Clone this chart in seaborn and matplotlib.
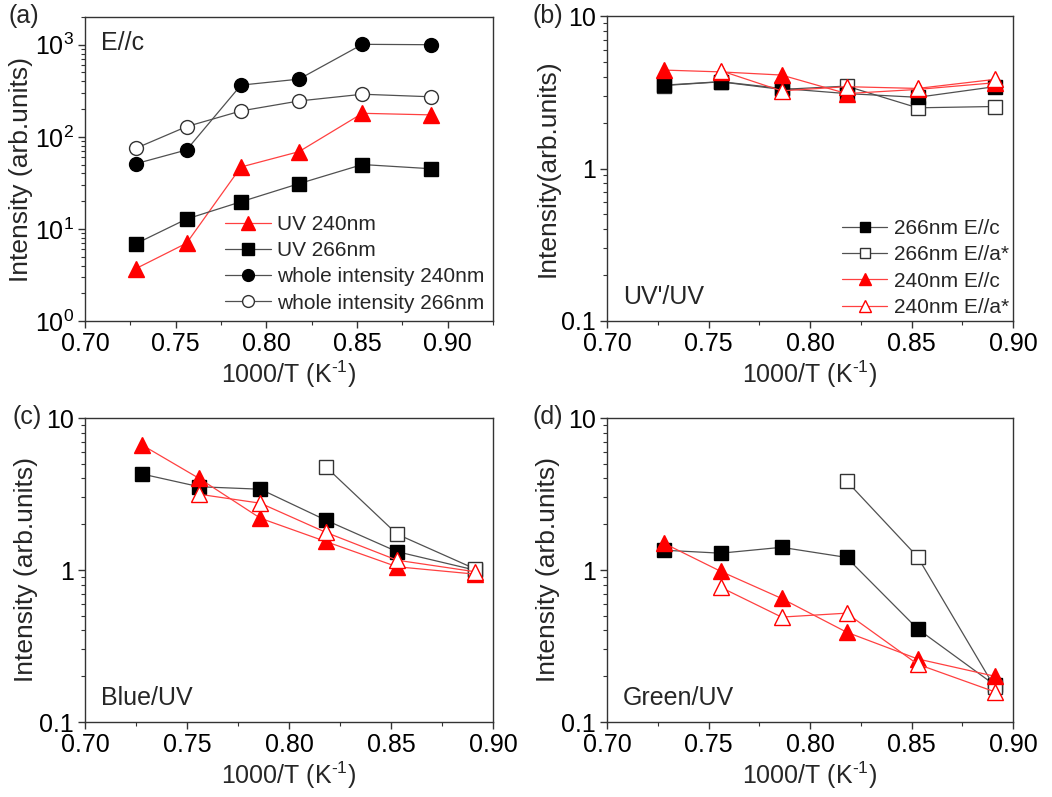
import numpy as np
import pandas as pd
import matplotlib
matplotlib.use("Agg")
import matplotlib.pyplot as plt
import seaborn as sns
from matplotlib.ticker import MultipleLocator, LogLocator, FixedLocator, FixedFormatter

sns.set_style("ticks")
plt.rcParams["font.family"] = ["Liberation Sans", "DejaVu Sans"]
plt.rcParams["mathtext.fontset"] = "custom"
plt.rcParams["mathtext.rm"] = "Liberation Sans"
plt.rcParams["mathtext.it"] = "Liberation Sans"

# ── data ──
x = [0.728, 0.756, 0.786, 0.818, 0.853, 0.891]
x_short = [0.818, 0.853, 0.891]
x_mid = [0.756, 0.786, 0.818, 0.853, 0.891]

# (a) E//c
a_uv240 = [3.7, 7.0, 47, 69, 180, 173]
a_uv266 = [6.9, 12.8, 19.7, 31, 50, 45]
a_whole240 = [51, 72, 364, 423, 1010, 1000]
a_whole266 = [75, 129, 191, 245, 290, 272]

# (b) UV'/UV
b_266c = [3.52, 3.71, 3.35, 3.1, 2.93, 3.44]
b_266a = [3.5, 3.7, 3.3, 3.47, 2.5, 2.55]
b_240c = [4.42, 4.3, 4.1, 3.1, 3.3, 3.65]
b_240a = [4.38, 3.23, 3.44, 3.35, 3.84]

# (c) Blue/UV
c_266c = [4.28, 3.53, 3.4, 2.13, 1.32, 1.0]
c_266a = [4.78, 1.72, 1.02]
c_240c = [6.64, 4.0, 2.19, 1.54, 1.05, 0.94]
c_240a = [3.15, 2.75, 1.77, 1.16, 0.975]

# (d) Green/UV
d_266c = [1.35, 1.29, 1.41, 1.21, 0.41, 0.175]
d_266a = [3.85, 1.22, 0.169]
d_240c = [1.50, 0.98, 0.65, 0.39, 0.26, 0.20]
d_240a = [0.77, 0.49, 0.52, 0.24, 0.158]

GRAY = "#505050"
RED = "#ff4040"

W, H = 1052, 797
fig = plt.figure(figsize=(W / 100, H / 100), dpi=100)


def add_ax(l, t, r, b):
    return fig.add_axes([l / W, 1 - b / H, (r - l) / W, (b - t) / H])


axA = add_ax(85, 17, 493, 321)
axB = add_ax(607, 16, 1013, 321)
axC = add_ax(85, 418, 493, 722)
axD = add_ax(607, 418, 1013, 722)

STYLES = {
    "sq_f": dict(color=GRAY, marker="s", markerfacecolor="black", markeredgecolor="black"),
    "sq_o": dict(color=GRAY, marker="s", markerfacecolor="white", markeredgecolor="#333333"),
    "ci_f": dict(color=GRAY, marker="o", markerfacecolor="black", markeredgecolor="black"),
    "ci_o": dict(color=GRAY, marker="o", markerfacecolor="white", markeredgecolor="#333333"),
    "tr_f": dict(color=RED, marker="^", markerfacecolor="red", markeredgecolor="red"),
    "tr_o": dict(color=RED, marker="^", markerfacecolor="white", markeredgecolor="red"),
}


def series(ax, xs, ys, kind, label=None, ms=10):
    if kind.startswith("tr"):
        ms = ms + 1.5
    df = pd.DataFrame({"x": xs, "y": ys})
    sns.lineplot(data=df, x="x", y="y", ax=ax, label=label, linewidth=0.9,
                 markersize=ms, markeredgewidth=1.0, sort=False, **STYLES[kind])


series(axA, x, a_uv240, "tr_f", "UV 240nm")
series(axA, x, a_uv266, "sq_f", "UV 266nm")
series(axA, x, a_whole240, "ci_f", "whole intensity 240nm")
series(axA, x, a_whole266, "ci_o", "whole intensity 266nm")

# drawing order chosen so the overlaps look like the original
series(axB, x, b_266a, "sq_o", "266nm E//a*")
series(axB, x, b_266c, "sq_f", "266nm E//c")
series(axB, x, b_240c, "tr_f", "240nm E//c")
series(axB, x_mid, b_240a, "tr_o", "240nm E//a*")

series(axC, x, c_266c, "sq_f")
series(axC, x_short, c_266a, "sq_o")
series(axC, x, c_240c, "tr_f")
series(axC, x_mid, c_240a, "tr_o")

series(axD, x, d_266c, "sq_f")
series(axD, x_short, d_266a, "sq_o")
series(axD, x, d_240c, "tr_f")
series(axD, x_mid, d_240a, "tr_o")

XLAB = r"1000/T (K$^{\text{-1}}$)"
for ax in (axA, axB, axC, axD):
    ax.set_yscale("log")
    ax.set_xlim(0.70, 0.90)
    ax.xaxis.set_major_locator(MultipleLocator(0.05))
    ax.xaxis.set_minor_locator(MultipleLocator(0.025))
    ax.xaxis.set_major_formatter(matplotlib.ticker.FormatStrFormatter("%.2f"))
    ax.yaxis.set_minor_locator(LogLocator(base=10, subs=np.arange(2, 10)))
    ax.tick_params(which="major", direction="out", length=5, width=1, labelsize=18,
                   colors="#333333", labelcolor="black", pad=3)
    ax.tick_params(which="minor", direction="out", length=3, width=0.8, colors="#333333")
    for s in ax.spines.values():
        s.set_color("#333333")
        s.set_linewidth(1.0)
    ax.set_xlabel(XLAB, fontsize=18, labelpad=2)
    ax.set_ylabel("Intensity (arb.units)", fontsize=19, labelpad=1)

axA.set_xlim(0.70, 0.925)
axA.set_ylim(1, 2000)
axA.yaxis.set_major_locator(FixedLocator([1, 10, 100, 1000]))
axA.yaxis.set_major_formatter(FixedFormatter(["10$^0$", "10$^1$", "10$^2$", "10$^3$"]))
axB.set_ylabel("Intensity(arb.units)", fontsize=19, labelpad=1)

for ax in (axB, axC, axD):
    ax.set_ylim(0.1, 10)
    ax.yaxis.set_major_locator(FixedLocator([0.1, 1, 10]))
    ax.yaxis.set_major_formatter(FixedFormatter(["0.1", "1", "10"]))

legA = axA.legend(loc="lower right", frameon=False, fontsize=15, handlelength=2.2,
                  labelspacing=0.35, borderaxespad=0.3, handletextpad=0.3, borderpad=0.1,
                  markerscale=0.85)
hB, lB = axB.get_legend_handles_labels()
order = [1, 0, 2, 3]
legB = axB.legend([hB[i] for i in order], [lB[i] for i in order],
                  loc="lower right", frameon=False, fontsize=15, handlelength=2.2,
                  labelspacing=0.35, borderaxespad=0.1, handletextpad=0.3, borderpad=0.1,
                  markerscale=0.75)

axA.text(0.04, 0.955, "E//c", transform=axA.transAxes, fontsize=18, va="top", ha="left")
axB.text(0.04, 0.04, "UV'/UV", transform=axB.transAxes, fontsize=18, va="bottom", ha="left")
axC.text(0.04, 0.04, "Blue/UV", transform=axC.transAxes, fontsize=18, va="bottom", ha="left")
axD.text(0.04, 0.04, "Green/UV", transform=axD.transAxes, fontsize=18, va="bottom", ha="left")

fig.text(8 / W, 1 - 4 / H, "(a)", fontsize=18, va="top", ha="left")
fig.text(532 / W, 1 - 4 / H, "(b)", fontsize=18, va="top", ha="left")
fig.text(12 / W, 1 - 405 / H, "(c)", fontsize=18, va="top", ha="left")
fig.text(532 / W, 1 - 405 / H, "(d)", fontsize=18, va="top", ha="left")

fig.savefig("out.png", dpi=100, facecolor="white")
